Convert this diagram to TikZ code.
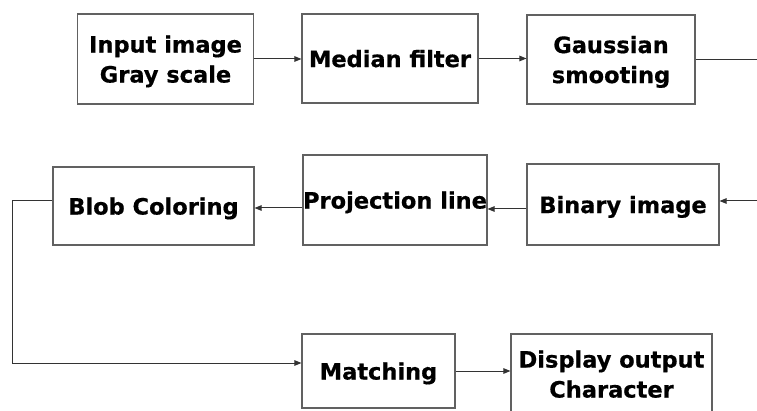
\documentclass[tikz,border=0pt]{standalone}
\usepackage{fontspec}
\setmainfont{DejaVu Sans}
\newfontfamily\stagefont[FakeBold=0.6]{DejaVu Sans Bold}
\usetikzlibrary{arrows.meta,calc}
\tikzset{
  stage/.style={draw=black!62, line width=1.1pt, fill=white, inner sep=0pt,
    align=center, text depth=0pt,
    font=\fontsize{22.5}{30}\selectfont\stagefont},
  link/.style={draw=black!80, line width=1pt},
  arr/.style={link, -{Triangle[length=7pt,width=5.5pt]}}
}
\begin{document}
\begin{tikzpicture}[x=1pt, y=-1pt]
  \useasboundingbox (0,0) rectangle (757,411);
  \clip (0,0) rectangle (757,411);
  \fill[white] (0,0) rectangle (757,411);

  % top row
  \node[stage, minimum width=176pt, minimum height=90pt] (in)  at (165.5,59)   {Input image\\Gray scale};
  \node[stage, minimum width=176pt, minimum height=89pt] (med) at (390,58.5)   {Median filter};
  \node[stage, minimum width=168pt, minimum height=89pt] (gau) at (611,59.5)   {Gaussian\\smooting};

  % middle row
  \node[stage, minimum width=201pt, minimum height=78pt] (blob) at (153.5,206) {Blob Coloring};
  \node[stage, minimum width=184pt, minimum height=90pt] (proj) at (395,200)   {Projection line};
  \node[stage, minimum width=192pt, minimum height=81pt] (bin)  at (623,204.5) {Binary image};

  % bottom row
  \node[stage, minimum width=153pt, minimum height=74pt] (mat)  at (378.5,371) {Matching};
  \node[stage, minimum width=201pt, minimum height=80pt] (disp) at (611.5,374) {Display output\\Character};

  % free ends at the right border
  \coordinate (outR) at (757,59.5);
  \coordinate (inR)  at (757,201);

  % connector ports
  \coordinate (b1) at ($(bin.west)+(0,4.5)$);
  \coordinate (p1) at ($(proj.west)+(0,8)$);
  \coordinate (bl) at ($(blob.west)+(0,-5.3)$);
  \coordinate (m1) at ($(mat.west)+(0,-8)$);

  \draw[arr]  (in.east)  -- (in.east -| med.west);
  \draw[arr]  (med.east) -- (med.east -| gau.west);
  \draw[link] (gau.east) -- (outR);
  \draw[arr]  (inR) -- (inR -| bin.east);
  \draw[arr]  (b1) -- (b1 -| proj.east);
  \draw[arr]  (p1) -- (p1 -| blob.east);
  \draw[arr]  (bl) -- ++(-40,0) |- (m1);
  \draw[arr]  (mat.east) -- (mat.east -| disp.west);
\end{tikzpicture}
\end{document}
